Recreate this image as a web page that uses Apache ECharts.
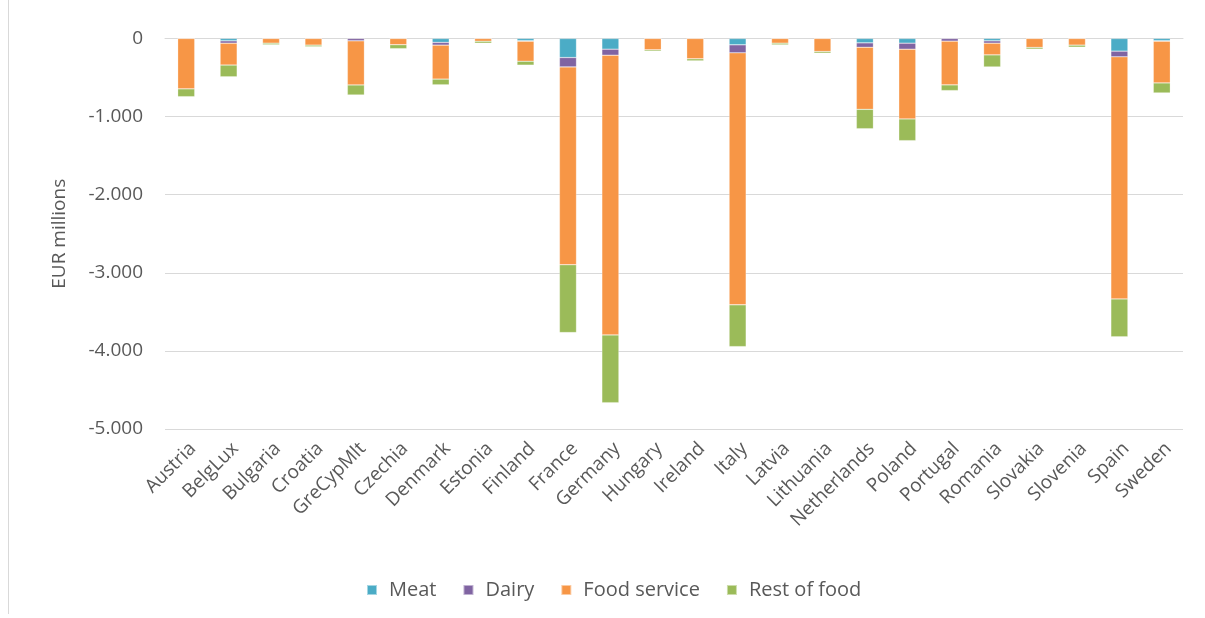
<!DOCTYPE html>
<html>

<head>
    <title></title>
    <meta http-equiv="content-type" content="text/html; charset=UTF-8">
    <script src="https://cdn.jsdelivr.net/npm/echarts@6/dist/echarts.min.js"></script>
    <style>
        html, body { margin: 0; padding: 0; background: #fff; }
        #container { width: 1205px; height: 618px; }
    </style>
</head>

<body>
    <div id="container"></div>

    <script type="text/javascript">
        var countries = ['Austria', 'BelgLux', 'Bulgaria', 'Croatia', 'GreCypMlt', 'Czechia', 'Denmark', 'Estonia',
            'Finland', 'France', 'Germany', 'Hungary', 'Ireland', 'Italy', 'Latvia', 'Lithuania', 'Netherlands',
            'Poland', 'Portugal', 'Romania', 'Slovakia', 'Slovenia', 'Spain', 'Sweden'];

        var meat = [0, -30, 0, 0, 0, 0, -50, 0, -30, -244, -137, 0, 0, -81, 0, 0, -56, -60, 0, -30, 0, 0, -162, -30];
        var dairy = [0, -30, 0, 0, -30, 0, -35, 0, -5, -120, -77, 0, 0, -103, 0, 0, -56, -77, -34, -30, 0, 0, -73, -5];
        var foodService = [-645, -280, -60, -85, -565, -80, -435, -35, -256, -2533, -3581, -145, -260, -3226, -60, -167,
            -795, -893, -560, -150, -115, -85, -3100, -534];
        var restOfFood = [-100, -150, -20, -20, -128, -50, -73, -25, -50, -868, -868, -17, -26, -535, -21, -21,
            -248, -278, -73, -154, -21, -26, -484, -128];

        var seriesNames = ['Meat', 'Dairy', 'Food service', 'Rest of food'];
        var seriesColors = ['#4BACC6', '#8064A2', '#F79646', '#9BBB59'];

        var fontFamily = '"Open Sans", sans-serif';
        var textColor = '#595959';
        var gridColor = '#d9d9d9';

        function fmt(v) {
            // thousands separator as dot
            var s = String(Math.abs(v)).replace(/\B(?=(\d{3})+(?!\d))/g, '.');
            return (v < 0 ? '-' : '') + s;
        }

        var series = [meat, dairy, foodService, restOfFood].map(function (d, i) {
            return {
                name: seriesNames[i],
                type: 'bar',
                stack: 'total',
                barWidth: 17,
                data: d,
                itemStyle: {
                    color: seriesColors[i],
                    borderColor: 'rgba(255,255,255,0.5)',
                    borderWidth: 0.5
                }
            };
        });

        var chart = echarts.init(document.getElementById('container'));
        chart.setOption({
            animation: false,
            textStyle: { fontFamily: fontFamily },
            grid: { left: 165, right: 22, top: 38.5, bottom: 189 },
            legend: {
                data: seriesNames,
                top: 575,
                left: 361,
                itemWidth: 10,
                itemHeight: 10,
                itemGap: 26,
                icon: 'rect',
                textStyle: { color: textColor, fontSize: 20, fontFamily: fontFamily, padding: [0, 0, 0, 7] }
            },
            xAxis: {
                type: 'category',
                data: countries,
                position: 'bottom',
                axisLine: { show: true, lineStyle: { color: gridColor } },
                axisTick: { show: false },
                axisLabel: {
                    rotate: 45,
                    interval: 0,
                    margin: 10,
                    verticalAlign: 'top',
                    color: textColor,
                    fontSize: 19,
                    fontFamily: fontFamily
                }
            },
            yAxis: {
                type: 'value',
                min: -5000,
                max: 0,
                interval: 1000,
                name: 'EUR millions',
                nameLocation: 'middle',
                nameGap: 96,
                nameTextStyle: { color: textColor, fontSize: 19, fontFamily: fontFamily },
                axisLine: { show: false },
                axisTick: { show: false },
                splitLine: { lineStyle: { color: gridColor, width: 1 } },
                axisLabel: {
                    color: textColor,
                    fontSize: 19,
                    margin: 22,
                    fontFamily: fontFamily,
                    formatter: function (v) { return fmt(v); }
                }
            },
            graphic: [{
                type: 'line',
                shape: { x1: 8.5, y1: 0, x2: 8.5, y2: 614 },
                style: { stroke: '#d9d9d9', lineWidth: 1 }
            }],
            series: series
        });
    </script>
</body>

</HTML>
